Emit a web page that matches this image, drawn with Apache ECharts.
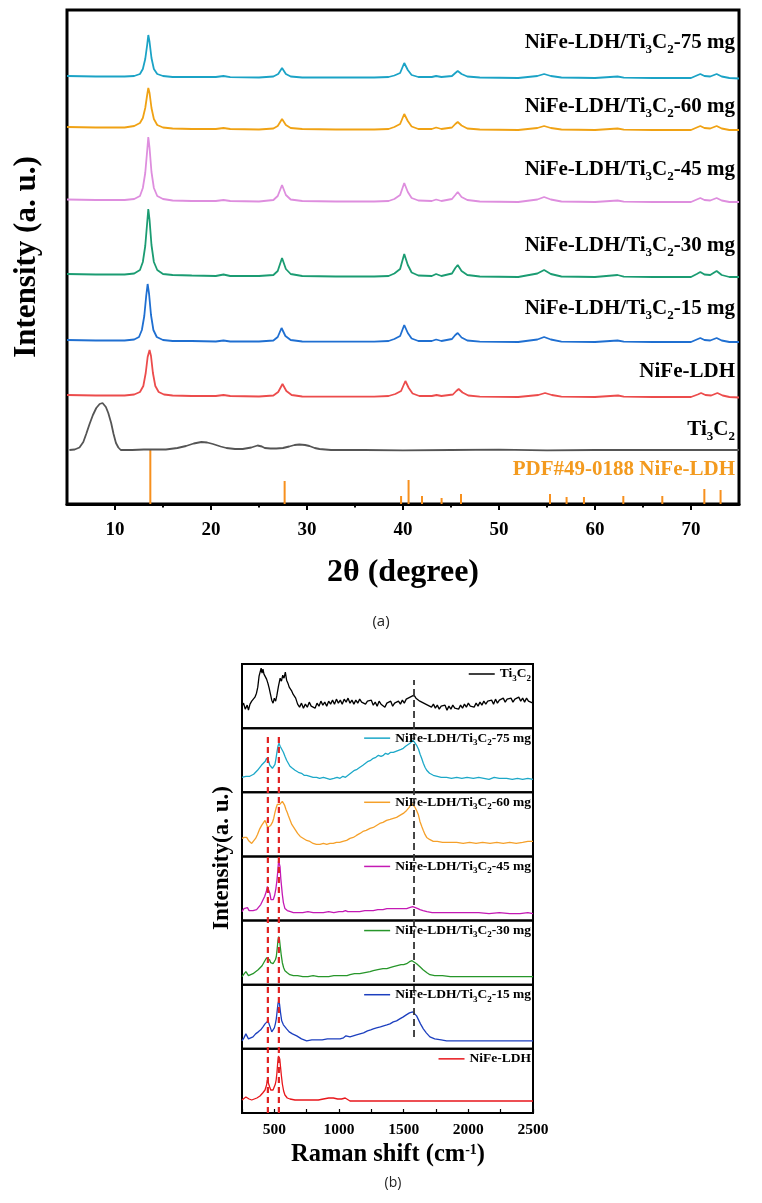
<!DOCTYPE html>
<html><head><meta charset="utf-8">
<script src="https://cdn.jsdelivr.net/npm/echarts@6/dist/echarts.min.js"></script>
<style>html,body{margin:0;padding:0;background:#fff}#c{width:762px;height:1203px}#err{position:absolute;left:0;top:0;font:12px monospace;white-space:pre-wrap;color:#c00;width:760px}</style>
</head><body><div id="c"></div><div id="err"></div>
<script>
// ---------------- (a) XRD data: [2theta, relative intensity] ----------------
const xrdNames = ['NiFe-LDH/Ti3C2-75 mg','NiFe-LDH/Ti3C2-60 mg','NiFe-LDH/Ti3C2-45 mg','NiFe-LDH/Ti3C2-30 mg','NiFe-LDH/Ti3C2-15 mg','NiFe-LDH','Ti3C2'];
const xrdOffsets = [426, 374, 302, 227, 162, 107, 54];
const xrd75 = [[5,2],[8,1.5],[11,1.5],[12,2],[12.6,4],[12.9,9],[13.15,19],[13.35,33],[13.47,43],[13.6,36],[13.8,20],[14.05,9],[14.4,4],[15,2],[16,1],[18,1],[20.5,1],[21.3,2],[22,0.8],[25,0.5],[26.5,1.5],[27.0,4],[27.4,10],[27.8,4],[28.3,1.5],[29.5,0.5],[33,0.5],[37,0.5],[38.5,1],[39.1,2.5],[39.7,5],[40.13,15],[40.5,8],[40.9,3],[41.6,1],[43,1],[43.45,2],[44,1],[45.1,2],[45.45,5],[45.7,7],[46.1,4],[46.7,1.5],[48,0.5],[52,0],[54.0,2],[54.7,4],[55.4,2],[56.5,0.5],[60,0],[62.35,1.5],[63,0.3],[66,0],[70,0],[70.6,2.5],[70.97,4],[71.4,2],[72.0,1.5],[72.67,4],[73.2,1.5],[74,0],[75,-0.5]];
const xrd60 = [[5,3],[8,2.5],[11,2.5],[12,4],[12.6,7],[12.9,12],[13.15,22],[13.35,35],[13.47,42],[13.6,37],[13.8,22],[14.05,11],[14.4,5],[15,2.5],[16,1.5],[18,1],[20.5,1],[21.3,2],[22,1],[25,0.5],[26.5,1.5],[26.95,4],[27.4,11],[27.8,5],[28.3,2],[29.5,1],[33,0.5],[37,0.5],[38.5,1],[39.1,3],[39.7,6],[40.13,16],[40.5,9],[40.9,3.5],[41.6,1],[43,1],[43.45,2.5],[44,1],[45.1,2.5],[45.45,6],[45.7,8],[46.1,4.5],[46.7,1.5],[48,0.5],[52,0],[54.0,2],[54.7,4],[55.4,2],[56.5,0.5],[60,0],[62.35,1.5],[63,0.3],[66,0],[70,0],[70.6,2.5],[70.97,4],[71.4,2],[72.0,1.5],[72.67,4],[73.2,1.5],[74,0],[75,0]];
const xrd45 = [[5,2.5],[8,2],[11,2],[12,3],[12.6,6],[12.9,14],[13.15,29],[13.35,51],[13.47,65],[13.6,54],[13.8,30],[14.05,14],[14.4,6],[15,3],[16,1.5],[18,1],[20.5,1],[21.3,2],[22,1],[25,0.5],[26.5,2],[26.95,6],[27.4,17],[27.8,7],[28.3,2.5],[29.5,1],[33,0.5],[37,0.5],[38.5,1],[39.1,3],[39.7,7],[40.13,19],[40.5,10],[40.9,4],[41.6,1.5],[43,1],[43.45,2.5],[44,1],[45.1,3],[45.45,7],[45.7,10],[46.1,5],[46.7,2],[48,0.5],[52,0],[54.0,2.5],[54.7,5],[55.4,2.5],[56.5,0.5],[60,0],[62.35,1.5],[63,0.3],[66,0],[70,0],[70.6,2.5],[70.97,4],[71.4,2],[72.0,1.5],[72.67,4],[73.2,1.5],[74,0],[75,0]];
const xrd30 = [[5,3],[8,2.5],[11,2.5],[12,3.5],[12.6,7],[12.9,15],[13.15,31],[13.35,54],[13.47,68],[13.6,57],[13.8,32],[14.05,15],[14.4,7],[15,3],[16,2],[18,1.5],[20.5,1],[21.3,2.5],[22,1],[25,1],[26.5,2],[26.95,6],[27.4,19],[27.8,8],[28.3,3],[29.5,1],[33,0.5],[37,0.5],[38.5,1],[39.1,3.5],[39.7,8],[40.13,23],[40.5,12],[40.9,4.5],[41.6,1.5],[43,1],[43.45,3],[44,1],[45.1,3.5],[45.45,9],[45.7,12],[46.1,6],[46.7,2],[48,0.5],[52,0],[54.0,3.5],[54.7,7],[55.4,3],[56.5,0.5],[60,0],[62.35,2],[63,0.3],[66,0],[70,0],[70.6,3],[70.97,5],[71.4,2.5],[72.0,2],[72.67,6],[73.2,2],[74,0],[75,0]];
const xrd15 = [[5,2],[8,1.5],[11,1.5],[12,2.5],[12.5,5],[12.8,12],[13.05,26],[13.25,46],[13.4,58],[13.55,48],[13.75,27],[14.0,12],[14.35,5],[15,2],[16,1],[18,1],[20.5,0.5],[21.3,1.5],[22,0.5],[25,0.5],[26.5,1.5],[26.95,5],[27.35,14],[27.75,6],[28.3,2],[29.5,0.5],[33,0.3],[37,0.3],[38.5,1],[39.1,3],[39.7,6],[40.13,17],[40.5,9],[40.9,3.5],[41.6,1],[43,1],[43.45,2.5],[44,1],[45.1,3],[45.45,7],[45.7,9],[46.1,4.5],[46.7,1.5],[48,0.3],[52,0],[54.0,2.5],[54.7,5],[55.4,2.5],[56.5,0.3],[60,0],[62.35,1.5],[63,0.3],[66,0],[70,0],[70.6,2.5],[70.97,4],[71.4,2],[72.0,1.5],[72.67,4],[73.2,1.5],[74,0],[75,0]];
const xrdLDH = [[5,2],[8,1.5],[11,1.5],[12,2.5],[12.6,5],[12.95,11],[13.2,24],[13.4,40],[13.6,47],[13.75,41],[13.95,24],[14.2,11],[14.55,5],[15.1,2.5],[16,1.5],[18,1],[20.5,1],[21.3,2],[22,1],[25,0.5],[26.5,1.5],[27.0,5],[27.45,13],[27.85,6],[28.4,2],[29.5,0.5],[33,0.3],[37,0.3],[38.5,1],[39.2,3],[39.8,6],[40.25,16],[40.6,9],[41.0,3.5],[41.7,1],[43,1],[43.5,2],[44,1],[45.2,2.5],[45.55,6],[45.8,8],[46.2,4.5],[46.8,1.5],[48,0.3],[52,0],[54.1,2],[54.8,4],[55.5,2],[56.5,0.3],[60,0],[62.4,1.5],[63,0.3],[66,0],[70,0],[70.7,2.5],[71.05,4],[71.5,2],[72.1,1.5],[72.75,4],[73.3,1.5],[74,0],[75,-0.5]];
const xrdTi3C2 = [[5.25,0],[5.8,0.5],[6.3,2.5],[6.7,8],[7.0,16],[7.35,26],[7.7,35],[8.05,42],[8.4,46],[8.7,47],[9.05,43],[9.3,37],[9.6,27],[9.85,16],[10.1,7],[10.35,2.5],[10.6,0],[11.8,0],[13,0.5],[15.3,0.5],[16.5,2],[17.4,4],[18.2,6.5],[19.0,8],[19.6,7.5],[20.2,6],[21.0,3.5],[21.6,2],[22.5,1],[23.3,1],[24.2,2.5],[24.85,4.5],[25.3,3.5],[25.6,2],[26.2,1.5],[26.8,1.5],[27.5,2],[28.15,3.5],[28.7,5],[29.2,5.5],[29.8,5],[30.25,4],[30.8,2],[31.3,1],[32.5,0],[36,0],[40,-0.3],[45,0],[50,0.3],[55,-0.3],[60,0],[65,0],[70,0],[75,0]];
const pdfPositions = [13.68, 27.67, 39.8, 40.58, 41.98, 44.02, 46.04, 55.31, 57.04, 58.85, 62.95, 67.01, 71.39, 73.08];
const pdfHeights   = [54, 23, 8, 24, 8, 6, 10, 10, 7, 7, 8, 8, 15, 14];
const xrdMajorTicks = [10, 20, 30, 40, 50, 60, 70];
const xrdMinorTicks = [15, 25, 35, 45, 55, 65];

// ---------------- (b) Raman data: [Raman shift, relative intensity] ----------------
const ramanNames = ['Ti3C2','NiFe-LDH/Ti3C2-75 mg','NiFe-LDH/Ti3C2-60 mg','NiFe-LDH/Ti3C2-45 mg','NiFe-LDH/Ti3C2-30 mg','NiFe-LDH/Ti3C2-15 mg','NiFe-LDH'];
const ramanTi3C2 = [[250,22],[262,25],[275,19],[290,23],[300,18],[312,24],[325,27],[337,25],[350,31],[362,35],[372,41],[382,52],[390,56],[398,60],[405,55],[412,59],[420,54],[430,52],[440,49],[450,45],[460,40],[470,34],[480,28],[490,25],[500,30],[510,27],[520,33],[532,42],[545,50],[555,47],[565,53],[575,50],[585,56],[595,48],[605,45],[615,41],[625,43],[635,37],[645,34],[655,36],[665,30],[680,24],[695,21],[710,25],[725,20],[740,24],[755,21],[770,26],[785,22],[800,24],[815,20],[830,25],[845,22],[860,27],[875,23],[890,26],[905,22],[920,27],[935,24],[950,28],[965,24],[980,29],[995,25],[1010,28],[1025,24],[1040,29],[1055,26],[1070,30],[1085,25],[1100,28],[1115,24],[1130,28],[1145,25],[1160,29],[1175,26],[1190,28],[1205,24],[1220,27],[1235,25],[1250,28],[1265,23],[1280,26],[1295,22],[1310,27],[1325,24],[1340,26],[1355,21],[1370,25],[1385,23],[1400,27],[1415,22],[1430,25],[1445,23],[1460,27],[1475,24],[1490,28],[1505,25],[1520,29],[1535,27],[1550,31],[1565,29],[1580,33],[1595,30],[1610,31],[1625,27],[1640,29],[1655,25],[1670,27],[1685,23],[1700,25],[1715,21],[1730,24],[1745,20],[1760,23],[1775,19],[1790,22],[1805,20],[1820,23],[1835,18],[1850,22],[1865,19],[1880,23],[1895,20],[1910,22],[1925,19],[1940,23],[1955,20],[1970,24],[1985,21],[2000,25],[2015,22],[2030,24],[2045,21],[2060,25],[2075,22],[2090,26],[2105,23],[2120,27],[2135,24],[2150,27],[2165,25],[2180,28],[2195,24],[2210,29],[2225,25],[2240,28],[2255,26],[2270,30],[2285,26],[2300,29],[2315,27],[2330,30],[2345,26],[2360,29],[2375,27],[2390,31],[2405,27],[2420,30],[2435,26],[2450,30],[2465,27],[2480,29],[2500,25]];
const raman75 = [[250,15],[265,17],[280,16],[295,14],[310,16],[325,15],[340,18],[355,19],[370,22],[385,24],[400,27],[415,29],[430,31],[440,34],[448,33],[456,31],[465,27],[475,25],[485,24],[495,26],[505,28],[513,34],[520,40],[528,46],[536,49],[545,46],[557,44],[570,40],[582,36],[595,32],[608,29],[621,26],[640,24],[660,22],[686,20],[710,19],[730,17],[750,17],[775,16],[800,15],[827,15],[850,14],[880,15],[905,14],[930,13],[960,14],[985,15],[1008,14],[1030,16],[1050,15],[1070,17],[1085,19],[1100,20],[1120,22],[1140,23],[1162,25],[1185,27],[1205,29],[1225,31],[1245,32],[1265,34],[1285,35],[1305,37],[1325,36],[1343,37],[1360,39],[1380,38],[1400,40],[1420,40],[1440,41],[1460,42],[1480,43],[1497,44],[1515,46],[1530,47],[1549,49],[1562,51],[1574,52],[1588,50],[1600,47],[1615,43],[1627,38],[1639,34],[1652,29],[1665,25],[1678,22],[1700,19],[1729,17],[1760,16],[1790,15],[1832,15],[1870,14],[1910,15],[1950,14],[1990,15],[2039,14],[2080,15],[2120,14],[2160,13],[2200,15],[2240,14],[2296,14],[2340,13],[2380,14],[2420,13],[2460,14],[2500,13]];
const raman60 = [[250,18],[268,19],[286,19],[300,16],[312,14],[325,13],[340,15],[355,18],[370,22],[385,27],[402,31],[415,33],[428,36],[438,33],[448,29],[460,30],[472,31],[485,34],[495,38],[505,44],[515,49],[523,52],[531,53],[542,52],[552,53],[562,55],[570,54],[580,51],[590,47],[600,44],[608,41],[620,37],[635,32],[650,29],[665,26],[680,23],[700,20],[725,18],[750,16],[775,15],[800,13],[825,12],[853,12],[880,13],[905,12],[930,13],[956,13],[980,14],[1005,14],[1030,15],[1059,16],[1085,18],[1110,19],[1135,21],[1162,23],[1185,25],[1210,26],[1240,28],[1265,29],[1290,31],[1315,33],[1340,34],[1368,36],[1395,37],[1420,38],[1445,39],[1471,41],[1497,43],[1523,46],[1543,49],[1562,53],[1575,52],[1588,49],[1600,46],[1613,42],[1626,35],[1640,30],[1652,26],[1665,22],[1678,19],[1700,17],[1729,15],[1760,15],[1800,14],[1850,14],[1910,14],[1960,13],[2010,14],[2060,13],[2110,14],[2168,13],[2220,14],[2270,13],[2320,14],[2370,13],[2420,14],[2460,15],[2500,15]];
const raman45 = [[250,9],[265,12],[280,14],[292,13],[305,10],[318,9],[335,10],[350,11],[363,11],[378,13],[395,16],[410,20],[425,24],[438,29],[446,34],[452,36],[458,33],[466,27],[474,21],[482,19],[492,21],[502,25],[512,32],[520,40],[527,50],[533,60],[538,61],[544,54],[550,42],[556,34],[562,26],[570,18],[582,12],[600,10],[625,9],[647,8],[680,8],[720,8],[760,9],[800,8],[840,8],[879,8],[920,9],[960,8],[1000,9],[1030,9],[1050,10],[1059,12],[1068,9],[1090,9],[1120,9],[1160,9],[1200,10],[1240,10],[1265,10],[1300,11],[1340,11],[1370,12],[1394,12],[1430,12],[1470,12],[1500,12],[1523,12],[1545,13],[1570,14],[1590,13],[1610,12],[1626,11],[1650,10],[1680,9],[1720,8],[1780,8],[1850,8],[1920,8],[2000,8],[2080,8],[2160,7],[2240,8],[2320,7],[2400,7],[2460,8],[2500,7]];
const raman30 = [[250,8],[265,10],[280,13],[290,12],[300,9],[315,9],[335,11],[355,13],[375,15],[389,16],[405,19],[418,22],[428,24],[440,27],[448,29],[455,28],[463,25],[472,22],[480,21],[490,21],[500,23],[508,25],[515,28],[522,36],[528,44],[534,48],[540,45],[546,38],[554,29],[562,22],[572,17],[582,14],[600,12],[620,10],[647,9],[680,9],[720,8],[760,8],[800,9],[840,8],[879,8],[920,8],[960,9],[1000,9],[1040,9],[1054,11],[1062,9],[1085,10],[1120,11],[1160,11],[1200,12],[1240,13],[1265,14],[1300,15],[1340,16],[1370,16],[1394,17],[1420,18],[1450,19],[1480,20],[1500,20],[1523,21],[1545,23],[1565,24],[1580,23],[1600,21],[1626,18],[1650,15],[1680,12],[1703,10],[1740,9],[1800,9],[1860,8],[1910,8],[1980,8],[2060,8],[2140,8],[2220,8],[2300,8],[2380,8],[2450,8],[2500,8]];
const raman15 = [[250,8],[265,11],[280,15],[290,13],[300,10],[315,9],[335,12],[355,15],[376,17],[395,19],[412,22],[428,25],[440,27],[451,28],[460,26],[470,21],[480,17],[490,18],[500,21],[508,25],[515,30],[522,38],[528,45],[534,48],[540,45],[548,36],[557,28],[570,24],[582,22],[595,20],[615,17],[640,15],[673,13],[710,10],[750,8],[790,9],[830,9],[870,9],[910,10],[950,10],[1008,10],[1035,11],[1054,13],[1062,11],[1085,12],[1110,13],[1135,14],[1162,15],[1190,16],[1220,18],[1245,19],[1265,20],[1290,21],[1320,22],[1345,23],[1370,24],[1394,25],[1420,27],[1445,28],[1470,30],[1497,32],[1520,34],[1545,36],[1570,37],[1585,36],[1600,33],[1615,29],[1630,25],[1652,20],[1675,16],[1703,12],[1740,10],[1790,9],[1832,8],[1900,8],[1980,8],[2060,8],[2140,8],[2220,8],[2300,8],[2380,8],[2450,8],[2500,8]];
const ramanLDH = [[250,13],[265,15],[280,16],[292,15],[305,14],[325,13],[345,14],[365,15],[389,17],[410,20],[428,23],[440,28],[446,33],[451,35],[456,32],[464,26],[472,23],[480,22],[490,23],[500,25],[508,29],[514,33],[520,40],[526,50],[532,57],[537,58],[542,54],[548,46],[554,38],[562,29],[572,22],[582,18],[600,15],[621,14],[660,13],[700,13],[750,13],[800,13],[840,13],[879,14],[920,15],[956,15],[990,14],[1020,14],[1034,13],[1048,15],[1054,16],[1062,13],[1085,12],[1130,12],[1180,12],[1240,12],[1300,12],[1380,12],[1460,12],[1540,12],[1620,12],[1700,12],[1780,12],[1860,12],[1940,12],[2020,12],[2100,12],[2180,12],[2260,12],[2340,12],[2420,12],[2500,12]];
const ramanBlackGuide = [[1580, 76], [1580, 433]];
const ramanRedGuideA = [[450, 0], [450, 379]];
const ramanRedGuideB = [[535, 0], [535, 379]];

// ---------------- chart ----------------
try {
const serif = '"Liberation Serif", "Times New Roman", serif';
const xrdData = [xrd75, xrd60, xrd45, xrd30, xrd15, xrdLDH, xrdTi3C2];
const xrdColors = ['#1ba3c6', '#f0a214', '#de8ede', '#1b9c72', '#1f6fd1', '#ec4c4c', '#555555'];
const ramanData = [ramanTi3C2, raman75, raman60, raman45, raman30, raman15, ramanLDH];
const ramanColors = ['#000000', '#1ca8c8', '#f5a02a', '#c41ab4', '#27962a', '#1c3fbf', '#e8161b'];

const panelTop = 664, panelH = (1113 - 664) / 7;
const grids = [{left: 67, top: 10, width: 672, height: 494, show: true, borderColor: '#000', borderWidth: 3}];
const xAxes = [
  {gridIndex: 0, type: 'value', min: 5, max: 75,
   axisLine: {show: true, lineStyle: {color: '#000', width: 3}},
   axisTick: {show: true, inside: false, length: 6, customValues: xrdMajorTicks, lineStyle: {color: '#000', width: 2}},
   axisLabel: {show: true, customValues: xrdMajorTicks, margin: 17, color: '#000', fontFamily: serif, fontWeight: 'bold', fontSize: 19},
   splitLine: {show: false}},
  {gridIndex: 0, type: 'value', min: 5, max: 75, position: 'bottom',
   axisLine: {show: false},
   axisTick: {show: true, inside: false, length: 3.5, customValues: xrdMinorTicks, lineStyle: {color: '#000', width: 2}},
   axisLabel: {show: false}, splitLine: {show: false}}
];
const yAxes = [{gridIndex: 0, type: 'value', min: 0, max: 494, show: false}];
const series = [];
xrdData.forEach((d, i) => {
  series.push({type: 'line', name: 'XRD ' + xrdNames[i], xAxisIndex: 0, yAxisIndex: 0,
    data: d.map(p => [p[0], p[1] + xrdOffsets[i]]), symbol: 'none', silent: true,
    color: xrdColors[i], lineStyle: {color: xrdColors[i], width: 1.8}});
});
series.push({type: 'custom', name: 'PDF', xAxisIndex: 0, yAxisIndex: 0, silent: true,
  data: pdfPositions.map((x, i) => [x, pdfHeights[i]]),
  renderItem: (params, api) => {
    const a = api.coord([api.value(0), 0]);
    const b = api.coord([api.value(0), api.value(1)]);
    return {type: 'line', shape: {x1: a[0], y1: a[1], x2: b[0], y2: b[1]}, style: {stroke: '#f7901e', lineWidth: 2}};
  }});

const legends = [];
ramanData.forEach((d, i) => {
  const gi = i + 1;
  const top = panelTop + i * panelH;
  const last = i === 6;
  grids.push({left: 242, top: top, width: 291, height: panelH, show: true, borderColor: '#000', borderWidth: 2});
  xAxes.push({gridIndex: gi, type: 'value', min: 250, max: 2500, interval: 250,
    axisLine: {show: last, lineStyle: {color: '#000', width: 2}},
    axisTick: {show: last, inside: true, length: 4, lineStyle: {color: '#000', width: 1.2}},
    axisLabel: {show: last, margin: 9, color: '#000', fontFamily: serif, fontWeight: 'bold', fontSize: 15.5,
      formatter: v => (v % 500 === 0 ? String(v) : '')},
    splitLine: {show: false}});
  yAxes.push({gridIndex: gi, type: 'value', min: 0, max: panelH, show: false});
  series.push({type: 'line', name: ramanNames[i], xAxisIndex: i + 2, yAxisIndex: gi, data: d,
    symbol: 'none', silent: true, color: ramanColors[i], lineStyle: {color: ramanColors[i], width: 1.3}});
  legends.push({data: [ramanNames[i]], right: 231, top: top + 3, padding: 0, icon: 'rect',
    itemWidth: 26, itemHeight: 1.5, selectedMode: false,
    formatter: n => n.replace('Ti3C2', 'Ti{s|3}C{s|2}'),
    textStyle: {color: '#000', fontFamily: serif, fontWeight: 'bold', fontSize: 13.5,
      rich: {s: {fontFamily: serif, fontWeight: 'bold', fontSize: 9, padding: [9, 0, 0, 0]}}}});
});
// overlay grid for dashed guides
grids.push({left: 242, top: panelTop, width: 291, height: 449, show: false});
xAxes.push({gridIndex: 8, type: 'value', min: 250, max: 2500, show: false});
yAxes.push({gridIndex: 8, type: 'value', min: 0, max: 449, show: false});
series.push({type: 'line', name: 'guideBlack', xAxisIndex: 9, yAxisIndex: 8, data: ramanBlackGuide, symbol: 'none', silent: true,
  lineStyle: {color: '#333', width: 1.8, type: [7, 4]}});
[ramanRedGuideA, ramanRedGuideB].forEach((g, k) => series.push({type: 'line', name: 'guideRed' + k, xAxisIndex: 9, yAxisIndex: 8, data: g, symbol: 'none', silent: true,
  lineStyle: {color: '#e02222', width: 2.2, type: [6, 4]}}));

const subRich = {s: {fontFamily: serif, fontWeight: 'bold', fontSize: 13, fill: '#000', padding: [14, 0, 0, 0]}};
const labelTexts = ['NiFe-LDH/Ti{s|3}C{s|2}-75 mg', 'NiFe-LDH/Ti{s|3}C{s|2}-60 mg', 'NiFe-LDH/Ti{s|3}C{s|2}-45 mg',
  'NiFe-LDH/Ti{s|3}C{s|2}-30 mg', 'NiFe-LDH/Ti{s|3}C{s|2}-15 mg', 'NiFe-LDH', 'Ti{s|3}C{s|2}'];
const labelY = [43, 107, 170, 246, 309, 372, 430];
const graphics = labelTexts.map((t, i) => ({type: 'text', x: 735, y: labelY[i], silent: true,
  style: {text: t, align: 'right', verticalAlign: 'middle', fill: '#000', fontFamily: serif, fontWeight: 'bold', fontSize: 21, rich: subRich}}));
graphics.push({type: 'text', x: 735, y: 470, silent: true,
  style: {text: 'PDF#49-0188 NiFe-LDH', align: 'right', verticalAlign: 'middle', fill: '#f39a1e', fontFamily: serif, fontWeight: 'bold', fontSize: 21}});
graphics.push({type: 'text', x: 403, y: 573, silent: true,
  style: {text: '2θ (degree)', align: 'center', verticalAlign: 'middle', fill: '#000', fontFamily: serif, fontWeight: 'bold', fontSize: 32}});
graphics.push({type: 'text', x: 27, y: 257, rotation: Math.PI / 2, silent: true,
  style: {text: 'Intensity (a. u.)', align: 'center', verticalAlign: 'middle', fill: '#000', fontFamily: serif, fontWeight: 'bold', fontSize: 31}});
graphics.push({type: 'text', x: 381, y: 622, silent: true,
  style: {text: '(a)', align: 'center', verticalAlign: 'middle', fill: '#222', fontFamily: '"Open Sans", sans-serif', fontSize: 15}});
graphics.push({type: 'text', x: 388, y: 1155, silent: true,
  style: {text: 'Raman shift (cm{p|-1})', align: 'center', verticalAlign: 'middle', fill: '#000', fontFamily: serif, fontWeight: 'bold', fontSize: 24.5,
    rich: {p: {fontFamily: serif, fontWeight: 'bold', fontSize: 14, fill: '#000', padding: [0, 0, 10, 0]}}}});
graphics.push({type: 'text', x: 222, y: 858, rotation: Math.PI / 2, silent: true,
  style: {text: 'Intensity(a. u.)', align: 'center', verticalAlign: 'middle', fill: '#000', fontFamily: serif, fontWeight: 'bold', fontSize: 23}});
graphics.push({type: 'text', x: 393, y: 1183, silent: true,
  style: {text: '(b)', align: 'center', verticalAlign: 'middle', fill: '#222', fontFamily: '"Open Sans", sans-serif', fontSize: 14}});

const chart = echarts.init(document.getElementById('c'), null, {renderer: 'canvas'});
chart.setOption({
  animation: false,
  backgroundColor: '#fff',
  grid: grids, xAxis: xAxes, yAxis: yAxes, series: series, legend: legends, graphic: graphics
});
} catch (e) { document.getElementById('err').textContent = String(e && e.stack || e); }
</script></body></html>
